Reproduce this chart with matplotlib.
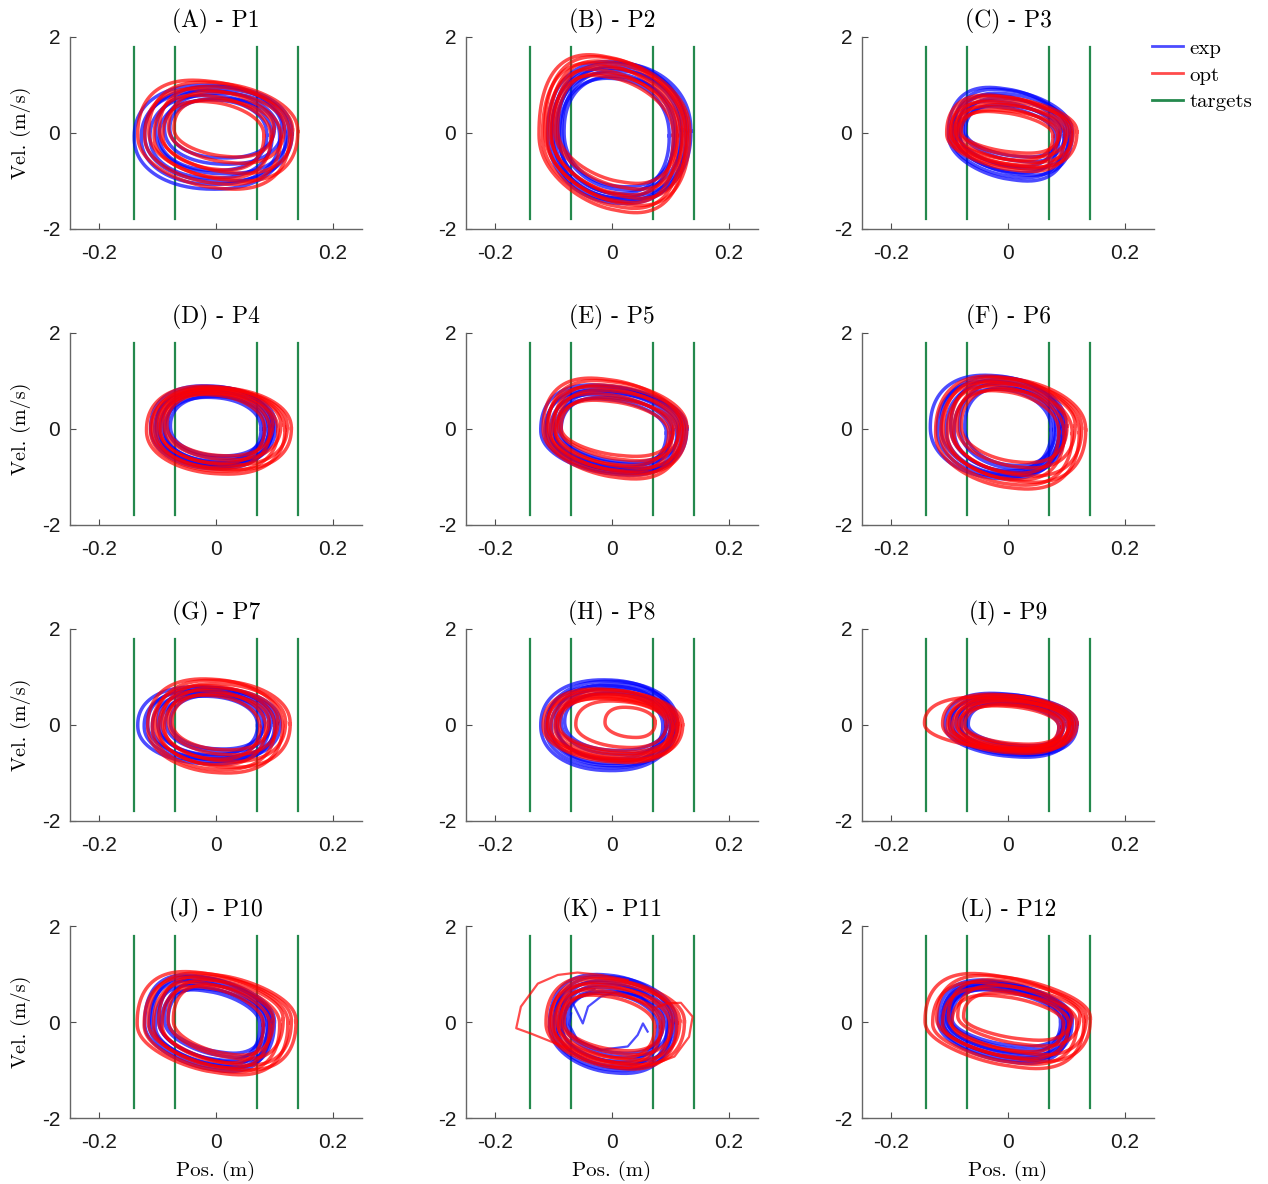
import matplotlib
matplotlib.use('Agg')
import matplotlib.pyplot as plt
from matplotlib.lines import Line2D
import numpy as np

# titulos dos paineis
titulos = ['(A) - P1', '(B) - P2', '(C) - P3', '(D) - P4', '(E) - P5', '(F) - P6',
           '(G) - P7', '(H) - P8', '(I) - P9', '(J) - P10', '(K) - P11', '(L) - P12']

# alvos (posicao em m) e extensao vertical das linhas
alvos = [-0.14, -0.07, 0.07, 0.14]
alvo_vel = [-1.8, 1.8]

# voltas, por painel: [esquerda], [direita], [topo], [fundo]
exp_p1 = [[-0.079, -0.097, -0.088, -0.113, -0.103, -0.128, -0.122, -0.140],
          [0.100, 0.087, 0.113, 0.096, 0.124, 0.109, 0.130, 0.119],
          [0.72, 0.69, 0.83, 0.78, 0.91, 0.88, 0.97, 1.00],
          [-0.52, -0.78, -0.65, -0.94, -0.85, -1.07, -1.01, -1.17]]
opt_p1 = [[-0.072, -0.091, -0.081, -0.106, -0.097, -0.122, -0.115, -0.134],
          [0.099, 0.082, 0.117, 0.094, 0.131, 0.111, 0.140, 0.126],
          [0.70, 0.66, 0.86, 0.79, 0.97, 0.92, 1.06, 1.10],
          [-0.50, -0.77, -0.63, -0.94, -0.84, -1.07, -1.00, -1.17]]
exp_p2 = [[-0.082, -0.090, -0.086, -0.097, -0.093, -0.104, -0.102, -0.110],
          [0.109, 0.098, 0.120, 0.105, 0.129, 0.117, 0.135, 0.126],
          [1.18, 1.14, 1.30, 1.25, 1.39, 1.35, 1.46, 1.49],
          [-1.12, -1.26, -1.19, -1.35, -1.30, -1.42, -1.38, -1.47]]
opt_p2 = [[-0.093, -0.103, -0.098, -0.111, -0.106, -0.119, -0.115, -0.125],
          [0.113, 0.105, 0.122, 0.111, 0.129, 0.119, 0.133, 0.126],
          [1.24, 1.20, 1.39, 1.33, 1.50, 1.46, 1.59, 1.63],
          [-1.05, -1.29, -1.17, -1.45, -1.36, -1.57, -1.51, -1.66]]
exp_p3 = [[-0.073, -0.082, -0.077, -0.089, -0.085, -0.096, -0.093, -0.102],
          [0.090, 0.081, 0.098, 0.087, 0.106, 0.096, 0.110, 0.103],
          [0.59, 0.55, 0.73, 0.67, 0.83, 0.79, 0.91, 0.95],
          [-0.50, -0.70, -0.60, -0.83, -0.75, -0.93, -0.88, -1.00]]
opt_p3 = [[-0.080, -0.088, -0.084, -0.094, -0.090, -0.100, -0.098, -0.105],
          [0.089, 0.077, 0.102, 0.085, 0.112, 0.098, 0.118, 0.108],
          [0.48, 0.45, 0.60, 0.55, 0.69, 0.65, 0.76, 0.79],
          [-0.42, -0.57, -0.50, -0.67, -0.61, -0.74, -0.71, -0.80]]
exp_p4 = [[-0.078, -0.088, -0.083, -0.097, -0.092, -0.105, -0.102, -0.112],
          [0.085, 0.077, 0.092, 0.082, 0.098, 0.090, 0.102, 0.096],
          [0.68, 0.66, 0.77, 0.73, 0.83, 0.80, 0.88, 0.90],
          [-0.56, -0.67, -0.61, -0.74, -0.70, -0.79, -0.76, -0.83]]
opt_p4 = [[-0.084, -0.095, -0.089, -0.103, -0.098, -0.112, -0.109, -0.119],
          [0.097, 0.083, 0.111, 0.092, 0.122, 0.106, 0.129, 0.118],
          [0.74, 0.72, 0.80, 0.77, 0.84, 0.82, 0.87, 0.89],
          [-0.56, -0.71, -0.64, -0.81, -0.75, -0.88, -0.85, -0.94]]
exp_p5 = [[-0.087, -0.098, -0.092, -0.106, -0.101, -0.115, -0.112, -0.122],
          [0.104, 0.093, 0.114, 0.100, 0.123, 0.111, 0.128, 0.119],
          [0.66, 0.63, 0.76, 0.72, 0.83, 0.80, 0.89, 0.92],
          [-0.69, -0.80, -0.74, -0.87, -0.83, -0.92, -0.89, -0.96]]
opt_p5 = [[-0.087, -0.096, -0.092, -0.104, -0.099, -0.112, -0.109, -0.118],
          [0.106, 0.097, 0.116, 0.103, 0.123, 0.113, 0.128, 0.120],
          [0.65, 0.60, 0.81, 0.74, 0.92, 0.88, 1.01, 1.06],
          [-0.57, -0.76, -0.66, -0.88, -0.81, -0.97, -0.92, -1.04]]
exp_p6 = [[-0.074, -0.092, -0.083, -0.106, -0.098, -0.121, -0.115, -0.133],
          [0.082, 0.074, 0.089, 0.079, 0.095, 0.087, 0.099, 0.093],
          [0.86, 0.83, 0.96, 0.92, 1.03, 1.00, 1.09, 1.12],
          [-0.76, -0.87, -0.82, -0.94, -0.90, -1.00, -0.97, -1.04]]
opt_p6 = [[-0.080, -0.093, -0.087, -0.104, -0.098, -0.115, -0.111, -0.124],
          [0.101, 0.087, 0.115, 0.096, 0.126, 0.110, 0.133, 0.122],
          [0.83, 0.80, 0.94, 0.89, 1.01, 0.98, 1.07, 1.10],
          [-0.70, -0.92, -0.81, -1.06, -0.98, -1.17, -1.11, -1.25]]
exp_p7 = [[-0.078, -0.095, -0.086, -0.109, -0.100, -0.123, -0.117, -0.134],
          [0.083, 0.071, 0.094, 0.079, 0.104, 0.091, 0.110, 0.100],
          [0.62, 0.60, 0.69, 0.66, 0.74, 0.72, 0.78, 0.80],
          [-0.50, -0.62, -0.56, -0.70, -0.66, -0.76, -0.73, -0.81]]
opt_p7 = [[-0.075, -0.088, -0.081, -0.098, -0.092, -0.109, -0.104, -0.117],
          [0.091, 0.075, 0.106, 0.085, 0.119, 0.101, 0.127, 0.114],
          [0.65, 0.62, 0.77, 0.72, 0.86, 0.82, 0.93, 0.96],
          [-0.52, -0.71, -0.62, -0.83, -0.76, -0.93, -0.88, -1.00]]
exp_p8 = [[-0.081, -0.093, -0.087, -0.104, -0.097, -0.114, -0.110, -0.122],
          [0.095, 0.087, 0.102, 0.092, 0.108, 0.100, 0.112, 0.106],
          [0.68, 0.65, 0.78, 0.74, 0.85, 0.82, 0.91, 0.94],
          [-0.53, -0.70, -0.61, -0.80, -0.74, -0.89, -0.85, -0.95]]
opt_p8 = [[-0.012, -0.062, -0.090, -0.098, -0.094, -0.105, -0.112, -0.118, -0.110],
          [0.074, 0.093, 0.106, 0.100, 0.113, 0.104, 0.111, 0.116, 0.121],
          [0.37, 0.50, 0.57, 0.55, 0.64, 0.61, 0.67, 0.75, 0.73],
          [-0.26, -0.47, -0.55, -0.64, -0.60, -0.70, -0.75, -0.78, -0.72]]
exp_p9 = [[-0.068, -0.080, -0.074, -0.090, -0.084, -0.100, -0.096, -0.108],
          [0.096, 0.087, 0.106, 0.093, 0.113, 0.103, 0.118, 0.110],
          [0.46, 0.44, 0.54, 0.51, 0.59, 0.57, 0.64, 0.66],
          [-0.43, -0.53, -0.48, -0.59, -0.55, -0.63, -0.61, -0.67]]
opt_p9 = [[-0.074, -0.085, -0.080, -0.095, -0.089, -0.104, -0.101, -0.112, -0.143],
          [0.096, 0.087, 0.106, 0.093, 0.113, 0.103, 0.118, 0.110, 0.105],
          [0.42, 0.40, 0.51, 0.47, 0.57, 0.54, 0.62, 0.64, 0.58],
          [-0.40, -0.48, -0.44, -0.52, -0.50, -0.56, -0.54, -0.59, -0.50]]
exp_p10 = [[-0.082, -0.094, -0.088, -0.104, -0.098, -0.114, -0.110, -0.122],
           [0.083, 0.075, 0.090, 0.080, 0.096, 0.088, 0.100, 0.094],
           [0.70, 0.67, 0.81, 0.76, 0.89, 0.86, 0.95, 0.98],
           [-0.65, -0.80, -0.73, -0.90, -0.84, -0.97, -0.94, -1.03]]
opt_p10 = [[-0.073, -0.092, -0.082, -0.107, -0.098, -0.123, -0.116, -0.135],
           [0.098, 0.081, 0.115, 0.092, 0.129, 0.109, 0.137, 0.123],
           [0.77, 0.74, 0.88, 0.83, 0.96, 0.93, 1.02, 1.05],
           [-0.69, -0.85, -0.77, -0.96, -0.90, -1.04, -1.00, -1.10]]
exp_p11 = [[-0.076, -0.085, -0.081, -0.093, -0.088, -0.101, -0.098, -0.107],
           [0.088, 0.078, 0.097, 0.084, 0.105, 0.094, 0.110, 0.102],
           [0.64, 0.60, 0.78, 0.72, 0.87, 0.83, 0.95, 0.99],
           [-0.65, -0.82, -0.73, -0.92, -0.86, -1.01, -0.97, -1.07]]
opt_p11 = [[-0.082, -0.091, -0.087, -0.099, -0.094, -0.107, -0.104, -0.113],
           [0.088, 0.073, 0.104, 0.083, 0.116, 0.099, 0.124, 0.111],
           [0.60, 0.56, 0.73, 0.67, 0.83, 0.79, 0.90, 0.94],
           [-0.60, -0.75, -0.68, -0.85, -0.79, -0.92, -0.89, -0.98]]
exp_p12 = [[-0.096, -0.103, -0.099, -0.109, -0.105, -0.114, -0.112, -0.119],
           [0.096, 0.090, 0.102, 0.094, 0.107, 0.100, 0.110, 0.105],
           [0.69, 0.67, 0.76, 0.73, 0.81, 0.79, 0.85, 0.875],
           [-0.51, -0.65, -0.58, -0.74, -0.69, -0.81, -0.77, -0.86]]
opt_p12 = [[-0.076, -0.096, -0.086, -0.112, -0.102, -0.129, -0.122, -0.142],
           [0.109, 0.095, 0.123, 0.104, 0.134, 0.118, 0.141, 0.130],
           [0.61, 0.56, 0.76, 0.70, 0.88, 0.83, 0.97, 1.01],
           [-0.38, -0.62, -0.50, -0.76, -0.68, -0.88, -0.82, -0.97]]

exp_voltas = [exp_p1, exp_p2, exp_p3, exp_p4, exp_p5, exp_p6,
              exp_p7, exp_p8, exp_p9, exp_p10, exp_p11, exp_p12]
opt_voltas = [opt_p1, opt_p2, opt_p3, opt_p4, opt_p5, opt_p6,
              opt_p7, opt_p8, opt_p9, opt_p10, opt_p11, opt_p12]

# inclinacao de cada painel (pico de velocidade adiantado)
exp_incl = [0.05, 0.10, 0.30, 0.10, 0.25, 0.15, 0.10, 0.05, 0.25, 0.35, 0.20, 0.35]
opt_incl = [0.25, 0.30, 0.35, 0.15, 0.30, 0.25, 0.15, 0.20, 0.25, 0.35, 0.30, 0.40]

# tracos irregulares do painel K (P11)
k_exp_x1 = [0.072, 0.050, 0.010, -0.019, -0.041, -0.050, -0.067, -0.055, -0.030]
k_exp_v1 = [0.25, 0.53, 0.63, 0.53, 0.32, -0.03, 0.39, 0.58, 0.68]
k_exp_x2 = [0.061, 0.053, 0.044, 0.027, -0.019, -0.059, -0.073, -0.070]
k_exp_v2 = [-0.20, -0.03, -0.27, -0.51, -0.58, -0.375, -0.06, 0.18]
k_opt_x1 = [-0.076, -0.104, -0.139, -0.164, -0.156, -0.127, -0.093, -0.059, -0.019, 0.027]
k_opt_v1 = [-0.55, -0.41, -0.24, -0.13, 0.32, 0.80, 0.98, 1.03, 0.98, 0.875]
k_opt_x2 = [0.075, 0.095, 0.118, 0.138, 0.132, 0.107, 0.067, 0.027, -0.002]
k_opt_v2 = [0.30, 0.39, 0.40, 0.11, -0.31, -0.72, -0.90, -0.96, -0.93]

cor_exp = '#0000ff'
cor_opt = '#ff0000'
cor_alvo = '#24894d'
serif = 'cmr10'
sans = 'Liberation Sans'


def volta(esq, dir, topo, fundo, incl, n=240, p=0.9):
    cx, w = (esq + dir) / 2, (dir - esq) / 2
    cv, h = (topo + fundo) / 2, (topo - fundo) / 2
    t = np.linspace(0, 2 * np.pi, n)
    fase = t + incl * np.abs(np.sin(t))
    c = np.cos(t)
    s = np.sin(fase)
    x = cx + w * np.sign(c) * np.abs(c) ** p
    v = cv - h * np.sign(s) * np.abs(s) ** p
    return x, v


fig = plt.figure(figsize=(12.68, 11.84), dpi=100)
W, H = 1268, 1184
lefts = [70, 466, 862]
tops = [37, 333, 629, 926]

for k in range(12):
    lin, col = divmod(k, 3)
    ax = fig.add_axes([lefts[col] / W, 1 - (tops[lin] + 192) / H, 292 / W, 192 / H])

    for xa in alvos:
        ax.plot([xa, xa], alvo_vel, color=cor_alvo, lw=1.6, zorder=1)

    for e, d, t, b in zip(*exp_voltas[k]):
        x, v = volta(e, d, t, b, exp_incl[k])
        ax.plot(x, v, color=cor_exp, alpha=0.7, lw=2.5, zorder=2)
    if k == 10:
        ax.plot(k_exp_x1, k_exp_v1, color=cor_exp, alpha=0.7, lw=1.6, zorder=2)
        ax.plot(k_exp_x2, k_exp_v2, color=cor_exp, alpha=0.7, lw=1.6, zorder=2)

    for e, d, t, b in zip(*opt_voltas[k]):
        x, v = volta(e, d, t, b, opt_incl[k])
        ax.plot(x, v, color=cor_opt, alpha=0.7, lw=2.5, zorder=3)
    if k == 10:
        ax.plot(k_opt_x1, k_opt_v1, color=cor_opt, alpha=0.7, lw=1.6, zorder=3)
        ax.plot(k_opt_x2, k_opt_v2, color=cor_opt, alpha=0.7, lw=1.6, zorder=3)

    ax.set_xlim(-0.25, 0.25)
    ax.set_ylim(-2, 2)
    ax.set_xticks([-0.2, 0, 0.2])
    ax.set_xticklabels(['-0.2', '0', '0.2'], fontfamily=sans, fontsize=15)
    ax.set_yticks([-2, 0, 2])
    ax.set_yticklabels(['-2', '0', '2'], fontfamily=sans, fontsize=15)
    ax.tick_params(direction='in', length=4, width=0.8, color='0.3', labelcolor='0.1')
    ax.tick_params(axis='x', pad=11)
    ax.tick_params(axis='y', pad=7)
    for lado in ['top', 'right']:
        ax.spines[lado].set_visible(False)
    for lado in ['left', 'bottom']:
        ax.spines[lado].set_color('0.4')
        ax.spines[lado].set_linewidth(1.0)
    ax.set_title(titulos[k], fontfamily=serif, fontsize=17, pad=7)
    if col == 0:
        ax.set_ylabel('Vel. (m/s)', fontfamily=serif, fontsize=14.5, labelpad=8)
    if lin == 3:
        ax.set_xlabel('Pos. (m)', fontfamily=serif, fontsize=15, labelpad=6)

alcas = [Line2D([], [], color=cor_exp, alpha=0.7, lw=2.0),
         Line2D([], [], color=cor_opt, alpha=0.7, lw=2.0),
         Line2D([], [], color=cor_alvo, lw=2.0)]
fig.legend(alcas, ['exp', 'opt', 'targets'], loc='upper left',
           bbox_to_anchor=(1152 / W, 1 - 39 / H), frameon=False,
           prop={'family': serif, 'size': 15}, handlelength=1.5,
           handletextpad=0.3, labelspacing=0.4, borderpad=0, borderaxespad=0)

fig.savefig('out.png', dpi=100)
